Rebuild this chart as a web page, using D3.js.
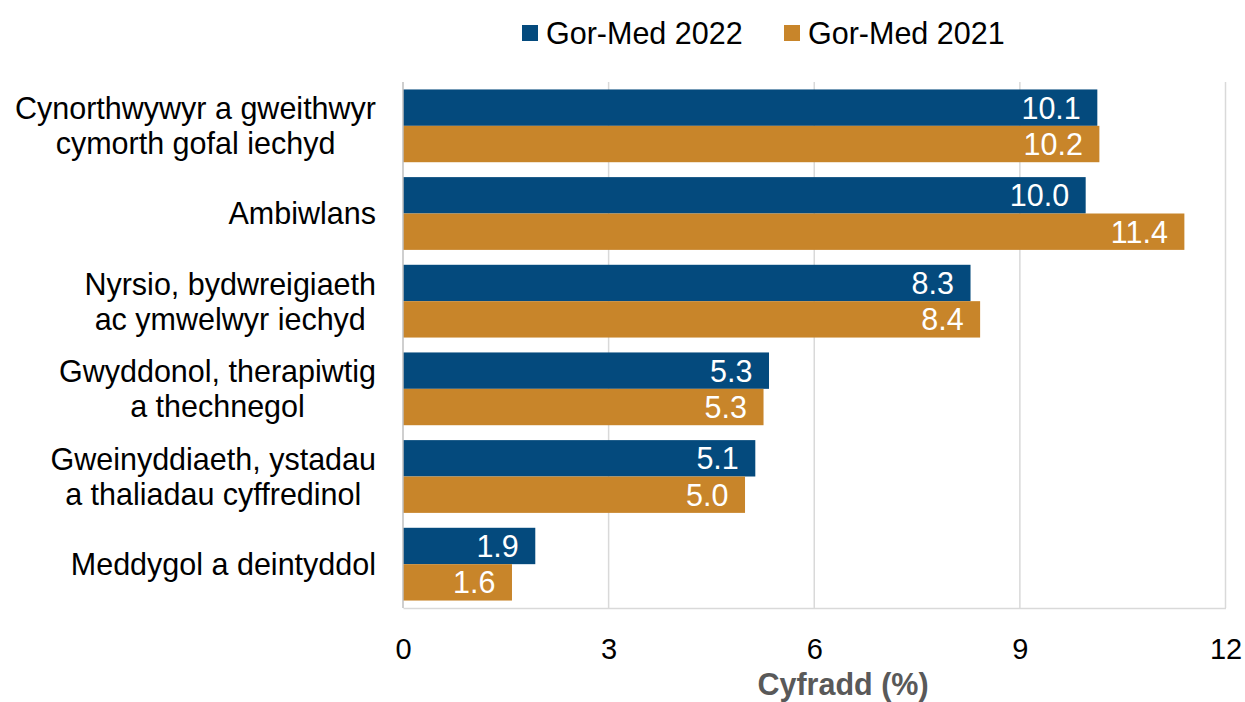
<!DOCTYPE html>
<html lang="en">
<head>
    <meta charset="utf-8">
    <title>Cyfradd</title>
    <style>
        body{ margin:0; background:#fff; font-family: "Liberation Sans", Arial, sans-serif;}
    </style>
    <script type="text/javascript" src="https://d3js.org/d3.v7.min.js"></script>
</head>
<body>
    <div class="chart"></div>

    <script type="text/javascript">
        // DATA ------------------------------
        const categories = [
            ["Cynorthwywyr a gweithwyr", "cymorth gofal iechyd"],
            ["Ambiwlans"],
            ["Nyrsio, bydwreigiaeth", "ac ymwelwyr iechyd"],
            ["Gwyddonol, therapiwtig", "a thechnegol"],
            ["Gweinyddiaeth, ystadau", "a thaliadau cyffredinol"],
            ["Meddygol a deintyddol"]
        ];
        const seriesNames = ["Gor-Med 2022", "Gor-Med 2021"];
        const values2022 = [10.13, 9.96, 8.28, 5.34, 5.14, 1.93];
        const values2021 = [10.16, 11.40, 8.42, 5.26, 4.99, 1.59];
        const xTicks = [0, 3, 6, 9, 12];
        const colors = ["#044A7D", "#C8852A"];

        // CHART INIT ------------------------------
        const W = 1245, H = 702;
        const margin = ({top: 82, right: 20, bottom: 94, left: 403});
        const w = 1225.5 - margin.left;
        const h = H - margin.top - margin.bottom;
        const fs = 30.5;

        const svg = d3.select(".chart")
            .append("svg")
            .attr("width", W)
            .attr("height", H);
        const g = svg.append("g")
            .attr("transform", `translate(${margin.left},${margin.top})`);

        const xScale = d3.scaleLinear().domain([0, 12]).range([0, w]);
        const yScale = d3.scaleBand()
            .domain(d3.range(categories.length))
            .range([0, h])
            .paddingInner(0.17)
            .paddingOuter(0.085);
        const subScale = d3.scaleBand()
            .domain([0, 1])
            .range([0, yScale.bandwidth()]);

        // gridlines
        g.selectAll(".grid")
            .data(xTicks.filter(d => d > 0))
            .join("line")
            .attr("x1", d => xScale(d)).attr("x2", d => xScale(d))
            .attr("y1", 0).attr("y2", h)
            .attr("stroke", "#D9D9D9").attr("stroke-width", 1.5);

        // bottom axis
        const xAxis = d3.axisBottom(xScale).tickValues(xTicks).tickSize(0).tickPadding(30);
        const xAxisDisplay = g.append("g")
            .attr("transform", `translate(0,${h})`)
            .call(xAxis);
        xAxisDisplay.select(".domain").attr("stroke", "#D9D9D9").attr("stroke-width", 1.5);
        xAxisDisplay.selectAll("text")
            .attr("font-size", 29)
            .attr("font-family", "Liberation Sans, Arial, sans-serif")
            .attr("fill", "#000");

        // bars
        const rows = [];
        categories.forEach((c, i) => {
            rows.push({cat: i, s: 0, v: values2022[i]});
            rows.push({cat: i, s: 1, v: values2021[i]});
        });

        g.selectAll(".bar")
            .data(rows)
            .join("rect")
            .attr("x", 0)
            .attr("y", d => yScale(d.cat) + subScale(d.s))
            .attr("width", d => xScale(d.v))
            .attr("height", subScale.bandwidth())
            .attr("fill", d => colors[d.s]);

        g.selectAll(".val")
            .data(rows)
            .join("text")
            .attr("x", d => xScale(d.v) - 16.5)
            .attr("y", d => yScale(d.cat) + subScale(d.s) + subScale.bandwidth() / 2)
            .attr("dy", "0.36em")
            .attr("text-anchor", "end")
            .attr("font-size", fs)
            .attr("fill", "#fff")
            .text(d => d3.format(".1f")(d.v));

        // left axis line
        g.append("line")
            .attr("x1", 0).attr("x2", 0)
            .attr("y1", 0).attr("y2", h)
            .attr("stroke", "#BFBFBF").attr("stroke-width", 1.5);

        // category labels: block right-aligned, lines centered within block
        const lineH = 35;
        categories.forEach((lines, i) => {
            const t = g.append("text")
                .attr("font-size", fs)
                .attr("fill", "#000")
                .attr("text-anchor", "middle");
            const spans = lines.map(l => t.append("tspan").text(l));
            const maxW = d3.max(spans, s => s.node().getComputedTextLength());
            const cx = -27 - maxW / 2;
            const cy = yScale(i) + yScale.bandwidth() / 2;
            spans.forEach((s, j) => {
                s.attr("x", cx)
                 .attr("y", cy + (j - (lines.length - 1) / 2) * lineH)
                 .attr("dy", "0.36em");
            });
        });

        // axis title
        svg.append("text")
            .attr("x", 843)
            .attr("y", 695)
            .attr("text-anchor", "middle")
            .attr("font-size", 30.5)
            .attr("font-weight", "bold")
            .attr("fill", "#595959")
            .text("Cyfradd (%)");

        // legend
        const legendX = [522, 784];
        const legend = svg.selectAll(".leg")
            .data(seriesNames)
            .join("g")
            .attr("transform", (d, i) => `translate(${legendX[i]},25)`);
        legend.append("rect")
            .attr("width", 16).attr("height", 16)
            .attr("fill", (d, i) => colors[i]);
        legend.append("text")
            .attr("x", 24)
            .attr("y", 8)
            .attr("dy", "0.36em")
            .attr("font-size", fs)
            .attr("fill", "#000")
            .text(d => d);
    </script>
</body>
</html>
